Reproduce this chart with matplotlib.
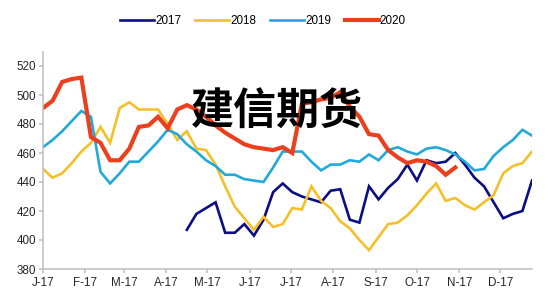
import matplotlib
matplotlib.use("Agg")
import matplotlib.pyplot as plt
import pandas as pd
import numpy as np

# ---- data ----
start_date = "2017-01-06"
n_weeks = 52
tick_labels = ['J-17', 'F-17', 'M-17', 'A-17', 'M-17', 'J-17',
               'J-17', 'A-17', 'S-17', 'O-17', 'N-17', 'D-17']
series_names = ['2017', '2018', '2019', '2020']

start_2017 = 15  # first week index with 2017 data
v2017 = [407, 418, 422, 426, 405, 405, 411, 403, 414, 433, 439, 433, 430, 428,
         426, 434, 435, 414, 412, 437, 428, 436, 442, 452, 441, 455, 453, 454,
         460, 452, 443, 437, 426, 415, 418, 420, 441]
v2018 = [449, 443, 446, 453, 461, 467, 478, 467, 491, 495, 490, 490, 490, 480,
         469, 475, 463, 462, 452, 437, 423, 415, 407, 416, 409, 411, 422, 421,
         437, 427, 422, 413, 408, 400, 393, 402, 411, 412, 417, 424, 432, 439,
         427, 429, 424, 421, 426, 431, 446, 451, 453, 461]
v2019 = [464, 469, 475, 482, 489, 485, 447, 439, 446, 454, 454, 461, 468, 476,
         473, 466, 461, 455, 451, 445, 445, 442, 441, 440, 450, 461, 461, 461,
         454, 448, 452, 452, 455, 454, 459, 455, 462, 464, 461, 459, 463, 464,
         462, 459, 454, 448, 449, 458, 464, 469, 476, 472]
v2020 = [491, 496, 509, 511, 512, 471, 467, 455, 455, 463, 478, 479, 485, 477,
         490, 493, 490, 485, 479, 474, 470, 466, 464, 463, 462, 464, 460, 494,
         495, 497, 498, 502, 492, 485, 473, 472, 462, 457, 453, 455, 454, 451,
         445, 450]

dates = pd.date_range(start_date, periods=n_weeks, freq="7D")
d2017 = dates[start_2017:start_2017 + len(v2017)]
d2018 = dates[:len(v2018)]
d2019 = dates[:len(v2019)]
d2020 = dates[:len(v2020)]
tick_dates = pd.date_range(start_date, periods=len(tick_labels),
                           freq=pd.DateOffset(months=1))

colors = ['#0d0d85', '#f4c02a', '#22a9db', '#ec3f1d']
widths = [1.9, 1.9, 1.9, 3.0]

plt.rcParams['font.family'] = ['Liberation Sans', 'DejaVu Sans']

fig = plt.figure(figsize=(5.5, 3.02), dpi=100)
ax = fig.add_axes([43/550, 1-269/302, (532-43)/550, (269-51.5)/302])

lines = []
for d, v, c, w, name in zip([d2017, d2018, d2019, d2020],
                            [v2017, v2018, v2019, v2020],
                            colors, widths, series_names):
    ln, = ax.plot(d, v, color=c, lw=w, label=name, solid_joinstyle='miter')
    lines.append(ln)

ax.set_ylim(380, 530)
ax.set_yticks(np.arange(380, 521, 20))
ax.set_xlim(dates[0], dates[-1])
ax.set_xticks(tick_dates)
ax.set_xticklabels(tick_labels)

for s in ['top', 'right']:
    ax.spines[s].set_visible(False)
for s in ['left', 'bottom']:
    ax.spines[s].set_color('#bfbfbf')
    ax.spines[s].set_linewidth(1.1)
ax.tick_params(axis='both', colors='#bfbfbf', length=3, width=1.1,
               labelsize=8.4, labelcolor='#262626')
ax.tick_params(axis='x', pad=3)
ax.tick_params(axis='y', pad=2)

fig.legend(handles=lines, labels=series_names, loc='center',
           bbox_to_anchor=(0.478, 1-21/302), ncol=4, frameon=False,
           fontsize=8.4, handlelength=2.9, handletextpad=0.1,
           columnspacing=1.2, borderaxespad=0)

fig.text(277/550, 1-112/302, '建信期货', ha='center', va='center',
         fontsize=31, fontweight='heavy', color='black',
         family=['Noto Sans CJK SC', 'DejaVu Sans'], zorder=10)

fig.savefig("out.png", dpi=100)
